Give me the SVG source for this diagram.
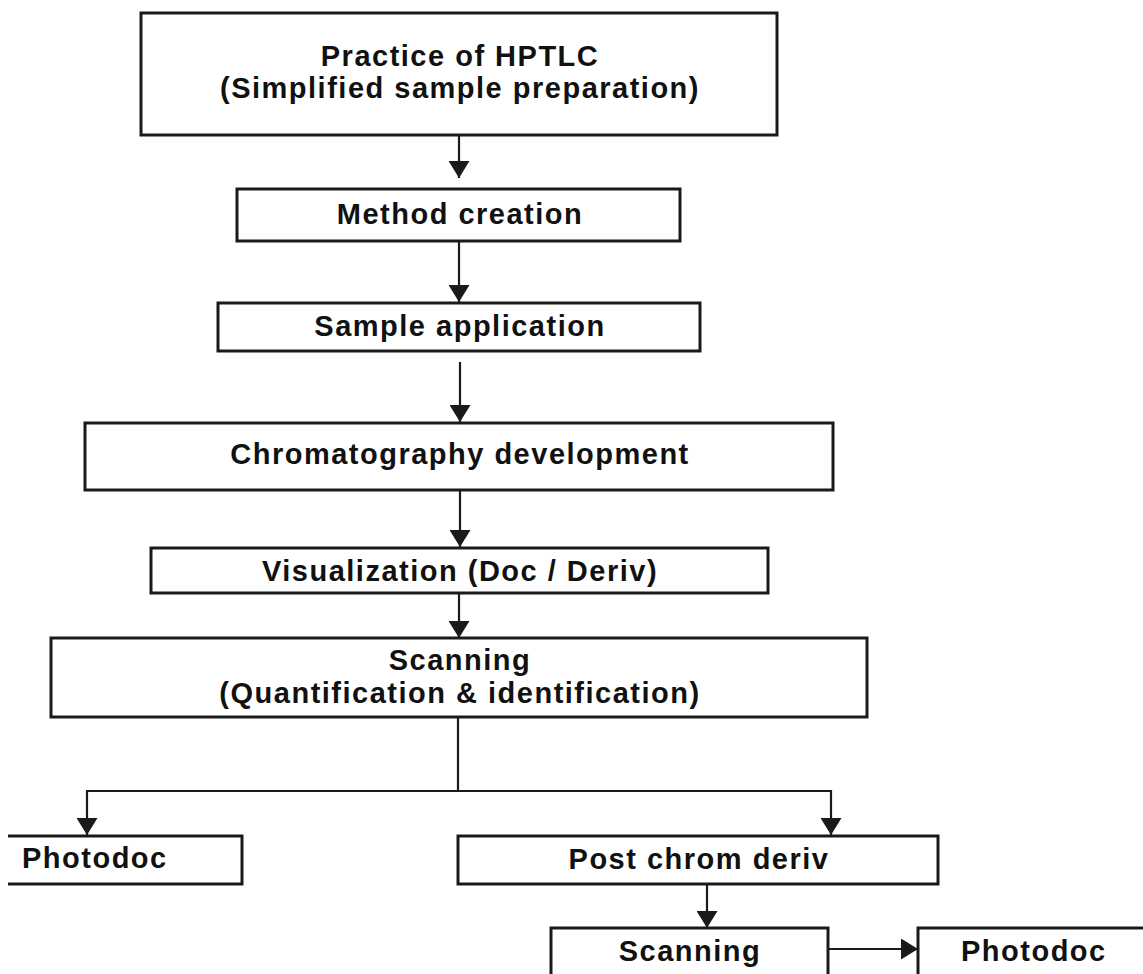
<svg xmlns="http://www.w3.org/2000/svg" width="1143" height="974" viewBox="0 0 1143 974">
<style>
.box{fill:#fff;stroke:#1a1a1a;stroke-width:3}
.t{font-family:"Liberation Sans",Arial,sans-serif;font-weight:bold;font-size:29px;fill:#111;letter-spacing:1.5px}
.c{text-anchor:middle}
.ln{fill:none;stroke:#1a1a1a;stroke-width:2.2}
</style>
<defs>
<marker id="ah" viewBox="0 0 17 21" refX="17" refY="10.5" markerWidth="17" markerHeight="21" markerUnits="userSpaceOnUse" orient="auto">
<path d="M0,0 L17,10.5 L0,21 z" fill="#1a1a1a"/>
</marker>
</defs>
<rect width="1143" height="974" fill="#fff"/>
<g id="connectors">
<line class="ln" x1="459" y1="136" x2="459" y2="178" marker-end="url(#ah)"/>
<line class="ln" x1="459" y1="241" x2="459" y2="302" marker-end="url(#ah)"/>
<line class="ln" x1="460" y1="362" x2="460" y2="422" marker-end="url(#ah)"/>
<line class="ln" x1="460" y1="490" x2="460" y2="547" marker-end="url(#ah)"/>
<line class="ln" x1="459" y1="593" x2="459" y2="638" marker-end="url(#ah)"/>
<path class="ln" d="M458,717 V791 M87,791 H831"/>
<line class="ln" x1="87" y1="790" x2="87" y2="835" marker-end="url(#ah)"/>
<line class="ln" x1="831" y1="790" x2="831" y2="835" marker-end="url(#ah)"/>
<line class="ln" x1="707" y1="884" x2="707" y2="928" marker-end="url(#ah)"/>
<line class="ln" x1="829" y1="949" x2="918" y2="949" marker-end="url(#ah)"/>
</g>
<g id="n1">
<rect class="box" x="141" y="13" width="636" height="122"/>
<text class="t c" x="460" y="66">Practice of HPTLC</text>
<text class="t c" x="460" y="98">(Simplified sample preparation)</text>
</g>
<g id="n2">
<rect class="box" x="237" y="189" width="443" height="52"/>
<text class="t c" x="460" y="224">Method creation</text>
</g>
<g id="n3">
<rect class="box" x="218" y="303" width="482" height="48"/>
<text class="t c" x="460" y="336">Sample application</text>
</g>
<g id="n4">
<rect class="box" x="85" y="423" width="748" height="67"/>
<text class="t c" x="460" y="464">Chromatography development</text>
</g>
<g id="n5">
<rect class="box" x="151" y="548" width="617" height="45"/>
<text class="t c" x="460" y="581">Visualization (Doc / Deriv)</text>
</g>
<g id="n6">
<rect class="box" x="51" y="638" width="816" height="79"/>
<text class="t c" x="460" y="670">Scanning</text>
<text class="t c" x="460" y="703">(Quantification &amp; identification)</text>
</g>
<g id="n7">
<path class="box" d="M8,836 H242 V884 H8"/>
<text class="t" x="22" y="868">Photodoc</text>
</g>
<g id="n8">
<rect class="box" x="458" y="836" width="480" height="48"/>
<text class="t c" x="699" y="869">Post chrom deriv</text>
</g>
<g id="n9">
<rect class="box" x="551" y="928" width="277" height="60"/>
<text class="t c" x="690" y="961">Scanning</text>
</g>
<g id="n10">
<rect class="box" x="918" y="928" width="240" height="60"/>
<text class="t" x="961" y="961">Photodoc</text>
</g>
</svg>
